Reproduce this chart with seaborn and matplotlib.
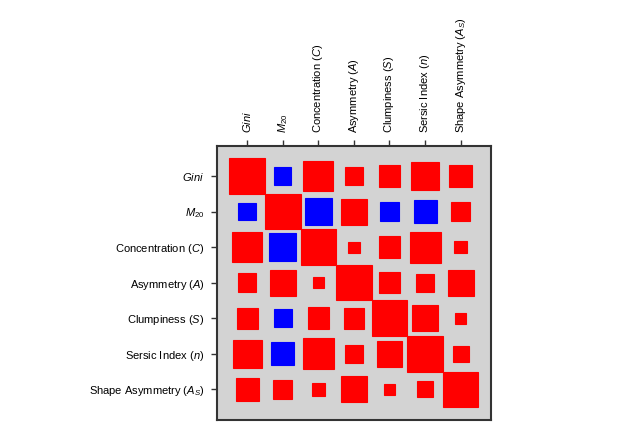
"""
Hinton-style diagram of the correlations between galaxy morphology parameters.
Square area scales with |r|, red = positive, blue = negative.
"""

import numpy as np
import pandas as pd
import matplotlib
matplotlib.use("Agg")
import matplotlib.pyplot as plt
from matplotlib.patches import Rectangle
import seaborn as sns

# Parameter labels (same order on both axes)
labels = [
    r"$Gini$",
    r"$M_{20}$",
    r"Concentration ($C$)",
    r"Asymmetry ($A$)",
    r"Clumpiness ($S$)",
    r"Sersic Index ($n$)",
    r"Shape Asymmetry ($A_S$)",
]

# Correlation matrix
gini = [1.00, -0.24, 0.72, 0.27, 0.36, 0.65, 0.41]
m20 = [-0.24, 1.00, -0.59, 0.53, -0.26, -0.42, 0.28]
conc = [0.72, -0.59, 1.00, 0.10, 0.37, 0.76, 0.12]
asym = [0.27, 0.53, 0.10, 1.00, 0.34, 0.25, 0.54]
clump = [0.36, -0.26, 0.37, 0.34, 1.00, 0.52, 0.10]
sersic = [0.65, -0.42, 0.76, 0.25, 0.52, 1.00, 0.20]
shape_asym = [0.41, 0.28, 0.12, 0.54, 0.10, 0.20, 1.00]

corr = pd.DataFrame([gini, m20, conc, asym, clump, sersic, shape_asym],
                    index=labels, columns=labels)


def hinton(matrix: pd.DataFrame, ax) -> None:
    """Draw one square per cell, side = sqrt(|w| / max_weight)."""
    max_weight = 2 ** np.ceil(np.log2(np.abs(matrix.values).max()))
    ax.patch.set_facecolor("lightgray")
    for (row, col), w in np.ndenumerate(matrix.values):
        color = "red" if w > 0 else "blue"
        size = np.sqrt(abs(w) / max_weight)
        rect = Rectangle([col - size / 2, row - size / 2], size, size,
                         facecolor=color, edgecolor=color, lw=0.8)
        ax.add_patch(rect)
    ax.autoscale_view()
    ax.set_aspect("equal")
    ax.invert_yaxis()


sns.set_style("white")
plt.rcParams["font.family"] = ["Liberation Sans", "DejaVu Sans"]
plt.rcParams["mathtext.fontset"] = "custom"
plt.rcParams["mathtext.rm"] = "Liberation Sans"
plt.rcParams["mathtext.it"] = "Liberation Sans:italic"
plt.rcParams["text.color"] = "black"

fig = plt.figure(figsize=(6.4, 4.4), dpi=100)
ax = fig.add_axes([0.339, 0.045, 0.428, 0.625])
hinton(corr, ax)

ax.set_xticks(range(len(labels)))
ax.set_yticks(range(len(labels)))
ax.set_xticklabels(labels, rotation=90, fontsize=8)
ax.set_yticklabels(labels, fontsize=8)
ax.xaxis.tick_top()
ax.tick_params(axis="both", length=4, width=1, color="#333333", pad=5,
               labelcolor="black",
               bottom=False, right=False, top=True, left=True)
for spine in ax.spines.values():
    spine.set_color("#333333")
    spine.set_linewidth(1.5)

plt.savefig("out.png", dpi=100)
